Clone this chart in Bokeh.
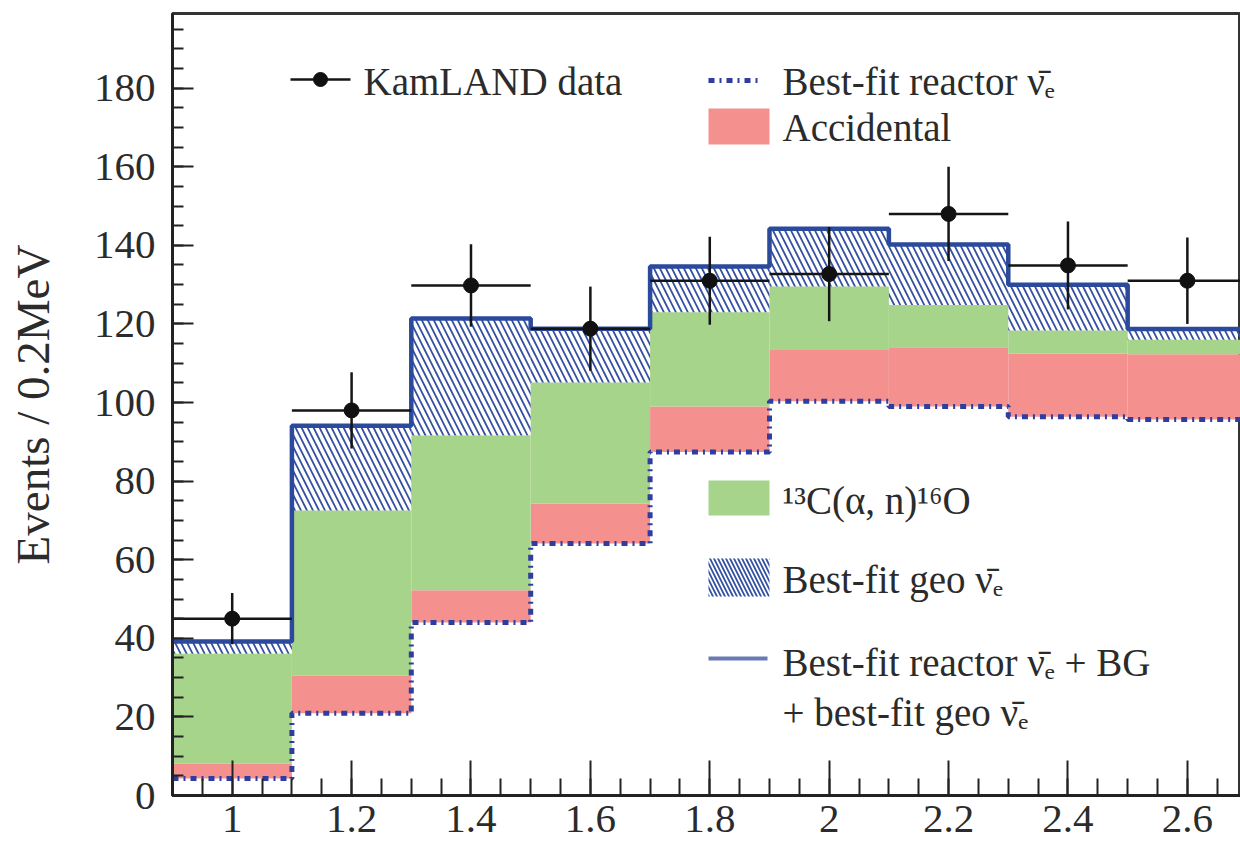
import numpy as np
from bokeh.plotting import figure
from bokeh.models import (Range1d, SingleIntervalTicker, NumeralTickFormatter, Label)
from bokeh.embed import file_html
from bokeh.resources import INLINE

# ---------------- data ----------------
bin_edges = [0.9, 1.1, 1.3, 1.5, 1.7, 1.9, 2.1, 2.3, 2.5, 2.7]
bin_centers = [1.0, 1.2, 1.4, 1.6, 1.8, 2.0, 2.2, 2.4, 2.6]
reactor = [4.3, 20.9, 44.0, 64.1, 87.4, 100.3, 99.0, 96.4, 95.7]
accidental = [3.8, 9.6, 8.2, 10.2, 11.6, 13.1, 15.1, 16.1, 16.6]
c13_alpha_n = [28.0, 42.0, 39.4, 30.8, 24.0, 16.1, 10.7, 5.8, 3.7]
geo = [3.1, 21.6, 29.8, 13.7, 11.6, 14.7, 15.4, 11.7, 2.7]
data_counts = [45.0, 98.0, 129.8, 118.8, 131.0, 132.7, 148.0, 134.9, 131.0]
data_err = [6.5, 9.7, 10.5, 10.7, 11.2, 12.0, 12.0, 11.2, 11.0]
y_title = "Events / 0.2MeV"

# ---------------- styling ----------------
FONT = "Liberation Serif"
TXT = "#2b2b2b"
GREEN = "#a6d48b"
PINK = "#f4918f"
BLUE = "#2b4a9c"
HATCH = "#34509f"
DOT = "#2f3d9e"
DOT_DASH = "6 5 2 5"

LEFT, TOP, BOTTOM, W, H = 172, 13, 795, 1240, 851
X0, X1, Y0, Y1 = 0.9, 2.689, 0.0, 199.0

p = figure(width=W, height=H, x_range=Range1d(X0, X1), y_range=Range1d(Y0, Y1),
           output_backend="svg", toolbar_location=None,
           min_border_left=LEFT, min_border_right=0, min_border_top=TOP,
           min_border_bottom=H - BOTTOM)
p.xgrid.visible = False
p.ygrid.visible = False
p.background_fill_color = "white"
p.border_fill_color = "white"
p.outline_line_color = "#333333"
p.outline_line_width = 3

# stacked components
lo = np.array(bin_edges[:-1])
hi = np.array(bin_edges[1:])
r = np.array(reactor)
a_top = r + np.array(accidental)
c_top = a_top + np.array(c13_alpha_n)
g_top = c_top + np.array(geo)

p.quad(left=lo, right=hi, bottom=r, top=a_top, fill_color=PINK, line_color=None)
p.quad(left=lo, right=hi, bottom=a_top, top=c_top, fill_color=GREEN, line_color=None)
p.quad(left=lo, right=hi, bottom=c_top, top=g_top, fill_color=None, line_color=None,
       hatch_pattern="\\", hatch_color=HATCH, hatch_scale=12, hatch_weight=1.8)

step_x = bin_edges
p.step(x=step_x, y=list(r) + [r[-1]], mode="after", line_color=DOT, line_width=5,
       line_dash=DOT_DASH)
p.step(x=step_x, y=list(g_top) + [g_top[-1]], mode="after", line_color=BLUE, line_width=4.5)

# data points
xc = np.array(bin_centers)
yd = np.array(data_counts)
ye = np.array(data_err)
p.segment(x0=lo, x1=hi, y0=yd, y1=yd, line_color="#151515", line_width=2.5)
p.segment(x0=xc, x1=xc, y0=yd - ye, y1=yd + ye, line_color="#151515", line_width=2.5)
p.scatter(x=xc, y=yd, size=15, marker="circle", fill_color="#111111", line_color="#111111")

# axes
p.xaxis.ticker = SingleIntervalTicker(interval=0.2, num_minor_ticks=4)
p.xaxis.formatter = NumeralTickFormatter(format="0.[0]")
p.yaxis.ticker = SingleIntervalTicker(interval=20, num_minor_ticks=4)
for ax in (p.xaxis[0], p.yaxis[0]):
    ax.axis_line_width = 3
    ax.axis_line_color = "#222222"
    ax.major_tick_line_color = "#222222"
    ax.minor_tick_line_color = "#222222"
    ax.major_tick_line_width = 2
    ax.minor_tick_line_width = 2
    ax.major_tick_out = 0
    ax.minor_tick_out = 0
    ax.major_label_text_font = FONT
    ax.major_label_text_font_size = "41px"
    ax.major_label_text_color = TXT
p.xaxis.major_tick_in = 35
p.xaxis.minor_tick_in = 17
p.yaxis.major_tick_in = 21
p.yaxis.minor_tick_in = 11
p.xaxis.major_label_standoff = 10
p.yaxis.major_label_standoff = 17
p.yaxis.axis_label = y_title
p.yaxis.axis_label_text_font = FONT
p.yaxis.axis_label_text_font_style = "normal"
p.yaxis.axis_label_text_font_size = "47px"
p.yaxis.axis_label_text_color = TXT
p.yaxis.axis_label_standoff = 32

# ---------------- legend (positioned in pixels, converted to data) -------------
PXX = (W - LEFT) / (X1 - X0)
PXY = (BOTTOM - TOP) / (Y1 - Y0)
def dx(px):
    return X0 + (px - LEFT) / PXX
def dy(py):
    return Y0 + (BOTTOM - py) / PXY

def label(px, py, text):
    p.add_layout(Label(x=dx(px), y=dy(py), text=text, text_font=FONT,
                       text_font_size="39px", text_color=TXT,
                       text_baseline="middle", text_align="left"))

# KamLAND data
p.line(x=[dx(290), dx(350)], y=[dy(79), dy(79)], line_color="#151515", line_width=2.5)
p.scatter(x=[dx(320)], y=[dy(79)], size=14, marker="circle", fill_color="#111111",
          line_color="#111111")
label(363, 81, "KamLAND data")

# Best-fit reactor
p.line(x=[dx(708), dx(760)], y=[dy(80), dy(80)], line_color=DOT, line_width=5,
       line_dash=DOT_DASH)
label(782, 81, "Best-fit reactor \u03bd\u0304\u2091")

# Accidental
p.quad(left=[dx(708)], right=[dx(769)], top=[dy(108)], bottom=[dy(144)],
       fill_color=PINK, line_color=None)
label(782, 127, "Accidental")

# 13C(a,n)16O
p.quad(left=[dx(708)], right=[dx(769)], top=[dy(480)], bottom=[dy(515)],
       fill_color=GREEN, line_color=None)
label(782, 500, "\u00b9\u00b3C(\u03b1, n)\u00b9\u2076O")

# geo
p.quad(left=[dx(708)], right=[dx(769)], top=[dy(558)], bottom=[dy(596)],
       fill_color=None, line_color=None, hatch_pattern="\\", hatch_color=HATCH,
       hatch_scale=8, hatch_weight=1.8)
label(782, 579, "Best-fit geo \u03bd\u0304\u2091")

# total
p.line(x=[dx(708), dx(767)], y=[dy(658), dy(658)], line_color="#6a7bb3", line_width=4)
label(782, 662, "Best-fit reactor \u03bd\u0304\u2091 + BG")
label(782, 712, "+ best-fit geo \u03bd\u0304\u2091")

open("out.html", "w").write(file_html(p, INLINE))
